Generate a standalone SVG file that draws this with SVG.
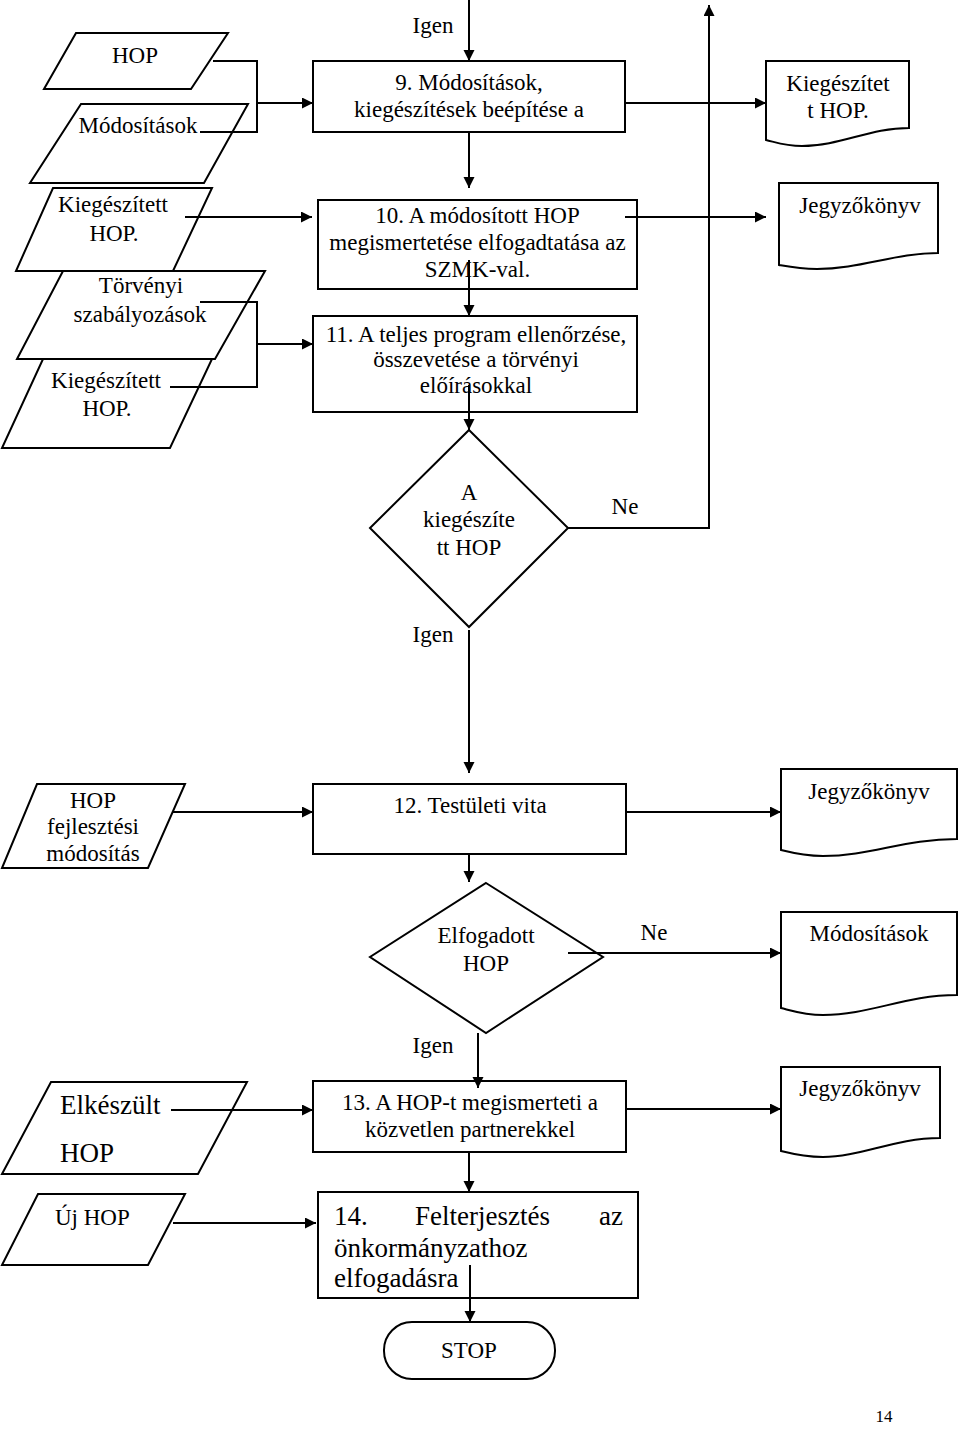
<svg xmlns="http://www.w3.org/2000/svg" width="960" height="1432" viewBox="0 0 960 1432">
<style>
.s{fill:none;stroke:#000;stroke-width:2}
.c{fill:none;stroke:#000;stroke-width:2}
.a{marker-end:url(#ah)}
text{font-family:"Liberation Serif","Times New Roman",serif;font-size:23px;fill:#000}
.m{text-anchor:middle}
.b{font-size:27px}
</style>
<defs>
<marker id="ah" markerUnits="userSpaceOnUse" markerWidth="12" markerHeight="12" refX="11" refY="5.5" orient="auto">
<path d="M0,0 L11,5.5 L0,11 z" fill="#000"/>
</marker>
</defs>
<rect width="960" height="1432" fill="#fff"/>

<g id="connectors">
<path class="c a" d="M469,0 V61"/>
<path class="c" d="M213,61 H257 V132 H200"/>
<path class="c a" d="M257,103 H313"/>
<path class="c a" d="M469,132 V188"/>
<path class="c a" d="M625,103 H766"/>
<path class="c a" d="M568,528 H709 V5"/>
<path class="c a" d="M185,217 H312"/>
<path class="c a" d="M625,217 H766"/>
<path class="c a" d="M469,260 V316"/>
<path class="c" d="M200,302 H257 V387 H170"/>
<path class="c a" d="M257,344 H313"/>
<path class="c a" d="M469,385 V430"/>
<path class="c a" d="M469,630 V773"/>
<path class="c a" d="M172,812 H313"/>
<path class="c a" d="M626,812 H781"/>
<path class="c a" d="M469,854 V882"/>
<path class="c a" d="M568,953 H781"/>
<path class="c a" d="M478,1033 V1088"/>
<path class="c a" d="M171,1110 H313"/>
<path class="c a" d="M626,1109 H781"/>
<path class="c a" d="M469,1152 V1192"/>
<path class="c a" d="M173,1223 H316"/>
<path class="c a" d="M470,1265 V1322"/>
</g>

<g id="in-hop">
<polygon class="s" points="76,33 228,33 191,89 44,89"/>
<text class="m" x="135" y="63">HOP</text>
</g>
<g id="in-modositasok">
<polygon class="s" points="81,104 248,104 204,183 30,183"/>
<text class="m" x="138" y="133">Módosítások</text>
</g>
<g id="box9">
<rect class="s" x="313" y="61" width="312" height="71"/>
<text class="m" x="469" y="90">9. Módosítások,</text>
<text class="m" x="469" y="117">kiegészítések beépítése a</text>
</g>
<g id="doc-kiegeszitett">
<path class="s" d="M766,61 H909 V128 C870,128 840,146 802,146 C785,146 775,142 766,140 Z"/>
<text class="m" x="838" y="91">Kiegészítet</text>
<text class="m" x="838" y="118">t HOP.</text>
</g>
<g id="in-kieg1">
<polygon class="s" points="53,188 212,188 173,271 16,271"/>
<text class="m" x="113" y="212">Kiegészített</text>
<text class="m" x="114" y="241">HOP.</text>
</g>
<g id="box10">
<rect class="s" x="318" y="200" width="319" height="89"/>
<text class="m" x="477.5" y="223">10. A módosított HOP</text>
<text class="m" x="477.5" y="250">megismertetése elfogadtatása az</text>
<text class="m" x="477.5" y="277">SZMK-val.</text>
</g>
<g id="doc-jegyzo1">
<path class="s" d="M779,183 H938 V253 C895,253 860,269 817,269 C800,269 790,267 779,265 Z"/>
<text class="m" x="860" y="213">Jegyzőkönyv</text>
</g>
<g id="in-torvenyi">
<polygon class="s" points="63,271 265,271 215,359 17,359"/>
<text class="m" x="141" y="293">Törvényi</text>
<text class="m" x="140" y="322">szabályozások</text>
</g>
<g id="in-kieg2">
<polygon class="s" points="43,359 212,359 170,448 2,448"/>
<text class="m" x="106" y="388">Kiegészített</text>
<text class="m" x="107" y="416">HOP.</text>
</g>
<g id="box11">
<rect class="s" x="313" y="316" width="324" height="96"/>
<text class="m" x="476" y="342">11. A teljes program ellenőrzése,</text>
<text class="m" x="476" y="367">összevetése a törvényi</text>
<text class="m" x="476" y="393">előírásokkal</text>
</g>
<g id="dec1">
<polygon class="s" points="469,430 568,528 469,627 370,528"/>
<text class="m" x="469" y="500">A</text>
<text class="m" x="469" y="527">kiegészíte</text>
<text class="m" x="469" y="555">tt HOP</text>
</g>
<g id="labels">
<text class="m" x="433" y="33">Igen</text>
<text class="m" x="625" y="514">Ne</text>
<text class="m" x="433" y="642">Igen</text>
<text class="m" x="654" y="940">Ne</text>
<text class="m" x="433" y="1053">Igen</text>
</g>
<g id="in-hopfejl">
<polygon class="s" points="37,784 185,784 148,868 2,868"/>
<text class="m" x="93" y="808">HOP</text>
<text class="m" x="93" y="834">fejlesztési</text>
<text class="m" x="93" y="861">módosítás</text>
</g>
<g id="box12">
<rect class="s" x="313" y="784" width="313" height="70"/>
<text class="m" x="470" y="813">12. Testületi vita</text>
</g>
<g id="doc-jegyzo2">
<path class="s" d="M781,769 H957 V839 C905,839 870,856 823,856 C805,856 793,853 781,850 Z"/>
<text class="m" x="869" y="799">Jegyzőkönyv</text>
</g>
<g id="dec2">
<polygon class="s" points="486,883 603,957 486,1033 370,957"/>
<text class="m" x="486" y="943">Elfogadott</text>
<text class="m" x="486" y="971">HOP</text>
</g>
<g id="doc-modositasok">
<path class="s" d="M781,912 H957 V995 C905,995 870,1015 823,1015 C805,1015 793,1011 781,1008 Z"/>
<text class="m" x="869" y="941">Módosítások</text>
</g>
<g id="in-elkeszult">
<polygon class="s" points="51,1082 247,1082 198,1174 2,1174"/>
<text class="b" x="60" y="1114">Elkészült</text>
<text class="b" x="60" y="1162">HOP</text>
</g>
<g id="box13">
<rect class="s" x="313" y="1081" width="313" height="71"/>
<text class="m" x="470" y="1110">13. A HOP-t megismerteti a</text>
<text class="m" x="470" y="1137">közvetlen partnerekkel</text>
</g>
<g id="doc-jegyzo3">
<path class="s" d="M781,1067 H940 V1138 C895,1138 860,1157 823,1157 C805,1157 793,1154 781,1151 Z"/>
<text class="m" x="860" y="1096">Jegyzőkönyv</text>
</g>
<g id="in-ujhop">
<polygon class="s" points="38,1194 185,1194 148,1265 2,1265"/>
<text x="55" y="1225">Új HOP</text>
</g>
<g id="box14">
<rect class="s" x="318" y="1192" width="320" height="106"/>
<text class="b" x="334" y="1225">14.</text>
<text class="b" x="415" y="1225">Felterjesztés</text>
<text class="b" x="623" y="1225" text-anchor="end">az</text>
<text class="b" x="334" y="1257">önkormányzathoz</text>
<text class="b" x="334" y="1287">elfogadásra</text>
</g>
<g id="stop">
<rect class="s" x="384" y="1322" width="171" height="57" rx="28" ry="28"/>
<text class="m" x="469" y="1358">STOP</text>
</g>
<text class="m" x="884" y="1422" style="font-size:17px">14</text>
</svg>
